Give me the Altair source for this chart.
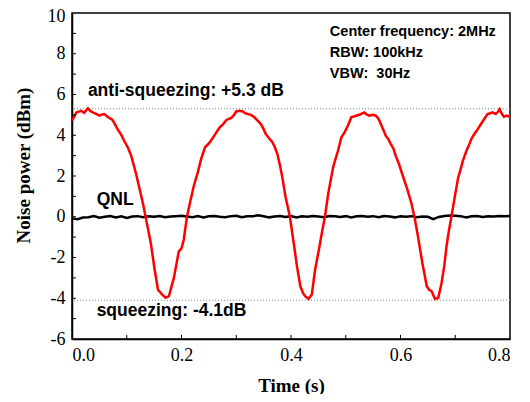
import altair as alt
import pandas as pd

# Red trace (squeezed noise vs time)
red_t = [0.000, 0.008, 0.017, 0.022, 0.029, 0.034, 0.038, 0.044, 0.050, 0.055, 0.059, 0.066,
         0.074, 0.083, 0.090, 0.095, 0.102, 0.108, 0.117, 0.124, 0.130, 0.135, 0.144, 0.151,
         0.157, 0.164, 0.171, 0.177, 0.186, 0.195, 0.200, 0.204, 0.210, 0.216, 0.222, 0.230,
         0.236, 0.243, 0.250, 0.258, 0.264, 0.270, 0.276, 0.282, 0.291, 0.296, 0.300, 0.306,
         0.312, 0.316, 0.321, 0.327, 0.333, 0.339, 0.345, 0.350, 0.354, 0.360, 0.366, 0.370,
         0.375, 0.380, 0.384, 0.390, 0.398, 0.405, 0.411, 0.417, 0.422, 0.426, 0.432, 0.438,
         0.444, 0.452, 0.457, 0.462, 0.468, 0.477, 0.482, 0.486, 0.492, 0.497, 0.501, 0.506,
         0.510, 0.515, 0.519, 0.526, 0.534, 0.538, 0.543, 0.549, 0.555, 0.560, 0.564, 0.569,
         0.573, 0.578, 0.582, 0.587, 0.591, 0.597, 0.603, 0.612, 0.620, 0.626, 0.632, 0.640,
         0.648, 0.652, 0.657, 0.660, 0.663, 0.669, 0.675, 0.680, 0.684, 0.688, 0.693, 0.699,
         0.705, 0.710, 0.714, 0.720, 0.726, 0.730, 0.735, 0.741, 0.747, 0.753, 0.759, 0.764,
         0.768, 0.774, 0.778, 0.781, 0.785, 0.789, 0.794, 0.800]
red_v = [4.72, 5.12, 5.20, 5.10, 5.32, 5.18, 5.12, 5.05, 4.96, 5.02, 5.04, 4.88,
         4.75, 4.31, 4.02, 3.74, 3.40, 3.01, 2.11, 1.30, 0.60, -0.08, -1.30, -2.60,
         -3.58, -3.80, -3.98, -3.90, -3.00, -1.71, -1.55, -1.14, 0.00, 0.75, 1.46, 2.20,
         2.85, 3.41, 3.60, 3.90, 4.15, 4.39, 4.55, 4.75, 4.85, 5.00, 5.17, 5.20,
         5.17, 5.08, 5.04, 5.00, 4.88, 4.72, 4.55, 4.30, 4.06, 3.85, 3.66, 3.45,
         3.09, 2.50, 1.95, 0.98, 0.00, -1.30, -2.44, -3.41, -3.75, -3.90, -4.03, -3.82,
         -2.60, -1.46, -0.70, 0.00, 1.14, 2.44, 2.90, 3.25, 3.90, 4.10, 4.31, 4.60,
         4.88, 4.92, 4.96, 5.02, 5.12, 5.02, 4.96, 5.00, 4.96, 4.80, 4.55, 4.25,
         3.98, 3.80, 3.58, 3.35, 3.01, 2.60, 2.11, 1.38, 0.65, -0.08, -0.98, -2.28,
         -3.41, -3.58, -3.66, -3.85, -4.03, -3.98, -3.25, -2.40, -1.46, -0.75, 0.00, 0.95,
         1.87, 2.35, 2.76, 3.20, 3.58, 3.85, 4.06, 4.30, 4.55, 4.80, 5.04, 5.08,
         5.12, 5.04, 5.15, 5.28, 5.05, 4.91, 4.96, 4.91]

# Black trace (quantum noise limit)
qnl_t = [i / 100 for i in range(81)]
qnl_v = [-0.08, -0.12, -0.04, -0.02, 0.03, -0.05, 0.00, 0.04, -0.03, 0.02,
         -0.06, 0.01, 0.03, -0.02, 0.02, 0.00, 0.04, -0.02, 0.01, 0.03,
         0.05, 0.01, -0.02, 0.03, -0.04, 0.02, 0.04, 0.00, -0.02, 0.03,
         0.05, -0.02, 0.02, 0.03, 0.07, 0.02, -0.03, 0.01, 0.04, -0.01,
         0.03, -0.04, 0.02, 0.00, 0.04, 0.01, -0.02, 0.04, 0.02, -0.01,
         0.03, -0.03, 0.02, 0.04, 0.00, 0.03, -0.02, 0.04, 0.01, -0.03,
         0.02, 0.00, 0.03, -0.02, 0.01, 0.00, -0.12, -0.01, 0.04, 0.06,
         0.05, 0.03, -0.03, 0.02, 0.04, -0.01, 0.03, 0.01, 0.04, 0.02, 0.04]

ref_levels = [5.3, -4.1]
x_minor = [0.1, 0.2, 0.3, 0.4, 0.5, 0.6, 0.7]
y_minor = [-5, -4, -3, -2, -1, 0, 1, 2, 3, 4, 5, 6, 7, 8, 9]
x_ticks = [0.0, 0.2, 0.4, 0.6, 0.8]
y_ticks = [-6, -4, -2, 0, 2, 4, 6, 8, 10]

labels = [
    {"t": 0.029, "v": 5.94, "txt": "anti-squeezing: +5.3 dB", "size": 17.5},
    {"t": 0.045, "v": 0.58, "txt": "QNL", "size": 17.5},
    {"t": 0.045, "v": -4.85, "txt": "squeezing: -4.1dB", "size": 17.5},
    {"t": 0.471, "v": 8.87, "txt": "Center frequency: 2MHz", "size": 14.5},
    {"t": 0.471, "v": 7.86, "txt": "RBW: 100kHz", "size": 14.5},
    {"t": 0.471, "v": 6.80, "txt": "VBW:\u00a0 30Hz", "size": 14.5},
]

red_df = pd.DataFrame({"t": red_t, "v": red_v})
qnl_df = pd.DataFrame({"t": qnl_t, "v": qnl_v})
ref_df = pd.DataFrame({"v": ref_levels})
xm_df = pd.DataFrame({"t": x_minor})
ym_df = pd.DataFrame({"v": y_minor})
lab_df = pd.DataFrame(labels)

xs = alt.Scale(domain=[0, 0.8], nice=False, zero=False)
ys = alt.Scale(domain=[-6, 10], nice=False, zero=False)

x_axis = alt.Axis(values=x_ticks, labelExpr="format(datum.value, '.1f')", ticks=False,
                  labelPadding=7, grid=False, title="Time (s)", titlePadding=12)
y_axis = alt.Axis(values=y_ticks, labelExpr="'' + datum.value", ticks=False,
                  labelPadding=7, grid=False, title="Noise power (dBm)", titlePadding=14,
                  titleY=152,
                  labelOffset={"condition": {"test": "datum.value == 10", "value": 3}, "value": 0})

refs = alt.Chart(ref_df).mark_rule(color="#888888", strokeDash=[1, 2], strokeWidth=1).encode(
    y=alt.Y("v:Q", scale=ys, axis=y_axis)
)
qnl = alt.Chart(qnl_df).mark_line(color="black", strokeWidth=2.5).encode(
    x=alt.X("t:Q", scale=xs, axis=x_axis), y=alt.Y("v:Q", scale=ys)
)
red = alt.Chart(red_df).mark_line(color="#ff0000", strokeWidth=2.5).encode(
    x=alt.X("t:Q", scale=xs), y=alt.Y("v:Q", scale=ys)
)
xt = alt.Chart(xm_df).mark_rule(color="black", strokeWidth=1).encode(
    x=alt.X("t:Q", scale=xs), y=alt.datum(-6), y2=alt.datum(-5.8)
)
yt = alt.Chart(ym_df).mark_rule(color="black", strokeWidth=1).encode(
    y=alt.Y("v:Q", scale=ys), x=alt.datum(0), x2=alt.datum(0.0073)
)
txt = alt.Chart(lab_df).mark_text(align="left", baseline="alphabetic", font="Liberation Sans",
                                  fontWeight="bold", color="black").encode(
    x=alt.X("t:Q", scale=xs), y=alt.Y("v:Q", scale=ys), text="txt:N",
    size=alt.Size("size:Q", scale=None, legend=None)
)

chart = alt.layer(refs, qnl, red, xt, yt, txt).properties(
    width=438, height=326,
    autosize=alt.AutoSizeParams(type="none"),
    padding={"left": 64, "top": 5, "right": 12, "bottom": 55},
    background="white",
).configure_view(stroke="black", strokeWidth=1.5).configure_axis(
    domainColor="black", domainWidth=1.5,
    labelFont="Liberation Serif", labelFontSize=18, labelColor="black",
    titleFont="Liberation Serif", titleFontSize=19, titleFontWeight="bold", titleColor="black",
)

chart.save("out.html", embed_options={"renderer": "svg", "actions": False})
